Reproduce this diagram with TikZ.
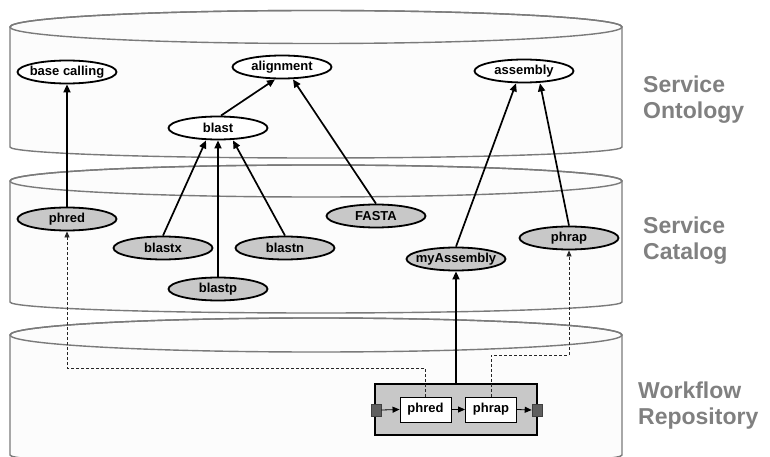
\documentclass[tikz,border=0pt]{standalone}
\usepackage{fontspec}
\setmainfont{Liberation Sans}
\usetikzlibrary{arrows.meta,shapes.geometric}

\definecolor{rim}{RGB}{122,122,122}
\definecolor{diskfill}{RGB}{252,252,252}
\definecolor{svc}{RGB}{200,200,200}
\definecolor{lbl}{RGB}{128,128,128}
\definecolor{portfill}{RGB}{95,95,95}

\begin{document}
\begin{tikzpicture}[x=1pt,y=-1pt,
  disk/.style={fill=diskfill, draw=rim, line width=1.4pt},
  concept/.style={ellipse, draw=black, line width=1.8pt, fill=white,
    minimum width=99pt, minimum height=23pt, inner xsep=-6pt, inner ysep=0pt,
    font=\fontsize{13}{15}\selectfont\bfseries},
  service/.style={concept, fill=svc},
  link/.style={line width=1.7pt, -{Triangle[length=8pt,width=7pt]}},
  trace/.style={draw=black!85, line width=0.8pt, dash pattern=on 3pt off 2pt,
    -{Triangle[length=6pt,width=5pt]}},
  flowbox/.style={rectangle, draw=black, line width=2.6pt, fill=svc,
    minimum width=162pt, minimum height=51pt, inner sep=0pt},
  task/.style={rectangle, draw=black, line width=0.9pt, fill=white,
    minimum width=51pt, minimum height=25pt, inner sep=0pt,
    font=\fontsize{13}{15}\selectfont\bfseries},
  port/.style={rectangle, draw=black!75, line width=0.6pt, fill=portfill,
    minimum width=10pt, minimum height=12pt, inner sep=0pt},
  flow/.style={line width=0.8pt, -{Triangle[length=7pt,width=6pt]}},
  layerlabel/.style={text=lbl, align=left, inner sep=0pt,
    font=\fontsize{23}{26}\selectfont\bfseries}
]
\clip (0,0) rectangle (770,457);
\fill[white] (0,0) rectangle (770,457);

% three stacked storage disks
\foreach \c/\a/\yb/\b in {27/16.5/147/11, 181/16/302/11, 335/17/455/11}{
  \filldraw[disk] (10,\c) -- (10,\yb)
    arc[start angle=180, end angle=0, x radius=306, y radius=\b]
    -- (622,\c)
    arc[start angle=0, end angle=-180, x radius=306, y radius=\a] -- cycle;
  \draw[draw=rim, line width=1.4pt] (316,\c) ellipse[x radius=306, y radius=\a];
}

% layer captions
\node[layerlabel, anchor=north west] (capOnt) at (643,76) {Service\\Ontology};
\node[layerlabel, anchor=north west] (capCat) at (643,217) {Service\\Catalog};
\node[layerlabel, anchor=north west] (capRep) at (638,382) {Workflow\\Repository};

% ontology concepts
\node[concept] (basecalling) at (67,72)  {base calling};
\node[concept] (alignment)   at (282,67) {alignment};
\node[concept] (blast)       at (218,128) {blast};
\node[concept] (assembly)    at (524,71) {assembly};

% catalogued services
\node[service] (phred)      at (67,219)  {phred};
\node[service] (blastx)     at (163,248) {blastx};
\node[service] (blastn)     at (285,248) {blastn};
\node[service] (blastp)     at (218,289) {blastp};
\node[service] (fasta)      at (376,216) {FASTA};
\node[service] (myassembly) at (456,259) {myAssembly};
\node[service] (phrap)      at (569,238) {phrap};

% stored workflow
\node[flowbox] (wf) at (456,409.5) {};
\node[task] (wphred) at (425.5,409.5) {phred};
\node[task] (wphrap) at (491,409.5) {phrap};
\node[port] (inport)  at (376,410) {};
\node[port] (outport) at (537,410) {};
\draw[flow] (inport.east) -- (wphred.west);
\draw[flow] (wphred.east) -- (wphrap.west);
\draw[flow] (wphrap.east) -- (outport.west);

% classification links
\draw[link] (phred) -- (basecalling);
\draw[link] ([xshift=3pt]blast.north) -- ([xshift=-7pt]alignment.south);
\draw[link] (fasta.north) -- ([xshift=11pt]alignment.south);
\draw[link] (blastx.north) -- ([xshift=-12pt]blast.south);
\draw[link] (blastp.north) -- (blast.south);
\draw[link] (blastn.north) -- ([xshift=15pt]blast.south);
\draw[link] (myassembly.north) -- ([xshift=-8pt]assembly.south);
\draw[link] (phrap.north) -- ([xshift=16pt]assembly.south);
\draw[link] (wf.north) -- (wf.north |- myassembly.south);

% tasks traced back to their services
\coordinate (bendA) at (67,368);
\coordinate (bendB) at (569,355);
\draw[trace] (wphred.north) |- (bendA) -- (phred.south);
\draw[trace] (wphrap.north) |- (bendB) -- (phrap.south);
\end{tikzpicture}
\end{document}
